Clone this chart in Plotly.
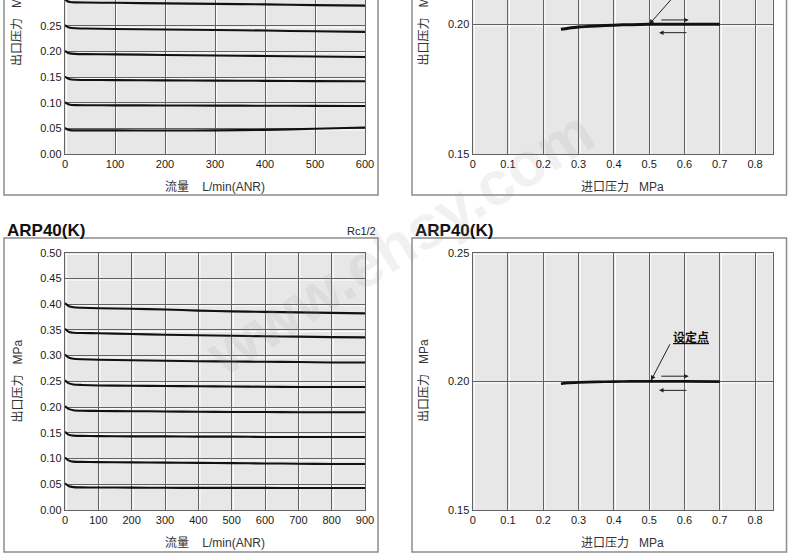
import plotly.graph_objects as go

W, H = 790, 556

# ---------------- data ----------------
# top-left panel (flow characteristics, 0-600 L/min)
flow_top = [0, 4, 10, 20, 40, 100, 200, 300, 400, 500, 600]
top_030 = [0.301, 0.298, 0.296, 0.2953, 0.295, 0.2945, 0.2935, 0.2925, 0.2915, 0.290, 0.289]
top_025 = [0.251, 0.248, 0.246, 0.245, 0.2445, 0.2435, 0.2425, 0.2415, 0.2405, 0.239, 0.238]
top_020 = [0.201, 0.198, 0.196, 0.195, 0.1945, 0.194, 0.193, 0.192, 0.191, 0.190, 0.189]
top_015 = [0.151, 0.148, 0.1455, 0.1447, 0.1443, 0.144, 0.1435, 0.143, 0.1425, 0.142, 0.1418]
top_010 = [0.101, 0.098, 0.096, 0.0953, 0.095, 0.0948, 0.0945, 0.0943, 0.094, 0.0938, 0.0935]
top_005 = [0.051, 0.048, 0.0465, 0.046, 0.046, 0.046, 0.0458, 0.046, 0.047, 0.0492, 0.0515]

# bottom-left panel ARP40(K) (flow characteristics, 0-900 L/min)
flow_k = [0, 5, 12, 25, 50, 100, 200, 300, 400, 500, 600, 700, 800, 900]
k_040 = [0.402, 0.399, 0.396, 0.394, 0.393, 0.392, 0.391, 0.3895, 0.3875, 0.386, 0.385, 0.384, 0.383, 0.382]
k_035 = [0.352, 0.349, 0.346, 0.3445, 0.344, 0.3435, 0.342, 0.3405, 0.3395, 0.3385, 0.3375, 0.337, 0.336, 0.3355]
k_030 = [0.302, 0.299, 0.296, 0.294, 0.293, 0.292, 0.291, 0.290, 0.289, 0.2885, 0.288, 0.2875, 0.2865, 0.2865]
k_025 = [0.252, 0.249, 0.246, 0.244, 0.243, 0.242, 0.2415, 0.241, 0.2405, 0.240, 0.2395, 0.239, 0.239, 0.239]
k_020 = [0.202, 0.199, 0.196, 0.194, 0.193, 0.1925, 0.192, 0.1915, 0.191, 0.1905, 0.1905, 0.190, 0.190, 0.190]
k_015 = [0.152, 0.149, 0.146, 0.1445, 0.144, 0.1435, 0.143, 0.143, 0.1425, 0.1425, 0.142, 0.142, 0.142, 0.142]
k_010 = [0.102, 0.099, 0.096, 0.094, 0.0935, 0.093, 0.0925, 0.092, 0.0915, 0.091, 0.0905, 0.090, 0.0895, 0.0895]
k_005 = [0.052, 0.049, 0.046, 0.0445, 0.044, 0.0438, 0.0435, 0.0432, 0.043, 0.043, 0.043, 0.0428, 0.0428, 0.0428]

# pressure characteristics (inlet vs outlet)
inlet = [0.25, 0.27, 0.30, 0.35, 0.40, 0.45, 0.50, 0.60, 0.70]
outlet_top = [0.1981, 0.1985, 0.1990, 0.1994, 0.1997, 0.1999, 0.2000, 0.2000, 0.2000]
outlet_k = [0.1991, 0.1994, 0.1996, 0.1998, 0.1999, 0.2000, 0.2000, 0.2000, 0.1999]
set_point = (0.50, 0.200)

flow_ticks_top = [0, 100, 200, 300, 400, 500, 600]
flow_ticks_k = [0, 100, 200, 300, 400, 500, 600, 700, 800, 900]
inlet_ticks = [0, 0.1, 0.2, 0.3, 0.4, 0.5, 0.6, 0.7, 0.8]
inlet_tick_text = ["0", "0.1", "0.2", "0.3", "0.4", "0.5", "0.6", "0.7", "0.8"]
flow_p_ticks_top = [0.00, 0.05, 0.10, 0.15, 0.20, 0.25, 0.30]
flow_p_ticks_k = [0.00, 0.05, 0.10, 0.15, 0.20, 0.25, 0.30, 0.35, 0.40, 0.45, 0.50]
out_p_ticks = [0.15, 0.20, 0.25]

title_k = "ARP40(K)"
port_k = "Rc1/2"
xlab_flow = "流量\u00a0\u00a0\u00a0\u00a0L/min(ANR)"
xlab_inlet = "进口压力\u00a0\u00a0\u00a0MPa"
ylab_out = "出口压力\u00a0\u00a0\u00a0MPa"
setpoint_label = "设定点"
watermark = "www.ehsy.com"

# ---------------- layout helpers ----------------
def px_x(p):
    return p / W

def px_y(p):
    return 1 - p / H

GRID = "#626262"
LAT = "Liberation Sans, Arial, Noto Sans CJK SC"

def axis_style(**kw):
    d = dict(showgrid=True, gridcolor=GRID, gridwidth=1.4, showline=True,
             linecolor=GRID, linewidth=1.4, mirror=True, ticks="",
             zeroline=False, automargin=False, fixedrange=True,
             tickfont=dict(family=LAT, size=11, color="#1a1a1a"))
    d.update(kw)
    return d

fig = go.Figure()

line_style = dict(color="#111", width=2.1, shape="spline", smoothing=0.6)

for s in [top_030, top_025, top_020, top_015, top_010, top_005]:
    fig.add_trace(go.Scatter(x=flow_top, y=s, mode="lines", line=line_style,
                             xaxis="x", yaxis="y", showlegend=False, hoverinfo="skip"))
fig.add_trace(go.Scatter(x=inlet, y=outlet_top, mode="lines",
                         line=dict(color="#111", width=3, shape="spline", smoothing=0.6),
                         xaxis="x2", yaxis="y2", showlegend=False, hoverinfo="skip"))
for s in [k_040, k_035, k_030, k_025, k_020, k_015, k_010, k_005]:
    fig.add_trace(go.Scatter(x=flow_k, y=s, mode="lines", line=line_style,
                             xaxis="x3", yaxis="y3", showlegend=False, hoverinfo="skip"))
fig.add_trace(go.Scatter(x=inlet, y=outlet_k, mode="lines",
                         line=dict(color="#111", width=2.6, shape="spline", smoothing=0.6),
                         xaxis="x4", yaxis="y4", showlegend=False, hoverinfo="skip"))

left_dom = [px_x(65), px_x(365)]
right_dom = [px_x(472.7), px_x(772.7)]
top_dom = [px_y(154), 1.0]
bot_dom = [px_y(510), px_y(252.7)]

fig.update_layout(
    width=W, height=H,
    margin=dict(l=0, r=0, t=0, b=0, autoexpand=False),
    paper_bgcolor="white", plot_bgcolor="#e7e7e7",
    template="none",
    xaxis=axis_style(domain=left_dom, range=[0, 600], tickvals=flow_ticks_top,
                     anchor="y", mirror=False),
    yaxis=axis_style(domain=top_dom, range=[0, 0.30], tickvals=flow_p_ticks_top,
                     tickformat=".2f", anchor="x"),
    xaxis2=axis_style(domain=right_dom, range=[0, 0.85], tickvals=inlet_ticks,
                      ticktext=inlet_tick_text, anchor="y2", mirror=False),
    yaxis2=axis_style(domain=top_dom, range=[0.15, 0.2094], tickvals=out_p_ticks,
                      tickformat=".2f", anchor="x2"),
    xaxis3=axis_style(domain=left_dom, range=[0, 900], tickvals=flow_ticks_k, anchor="y3"),
    yaxis3=axis_style(domain=bot_dom, range=[0, 0.50], tickvals=flow_p_ticks_k,
                      tickformat=".2f", anchor="x3"),
    xaxis4=axis_style(domain=right_dom, range=[0, 0.85], tickvals=inlet_ticks,
                      ticktext=inlet_tick_text, anchor="y4"),
    yaxis4=axis_style(domain=bot_dom, range=[0.15, 0.25], tickvals=out_p_ticks,
                      tickformat=".2f", anchor="x4"),
)

# white highlight next to each grid line (embossed look of the printed chart)
HL = "rgba(255,255,255,0.95)"
panels = [("x", "y", flow_ticks_top, flow_p_ticks_top[:-1]),
          ("x2", "y2", inlet_ticks, out_p_ticks[:2]),
          ("x3", "y3", flow_ticks_k[:-1], flow_p_ticks_k[1:]),
          ("x4", "y4", inlet_ticks, out_p_ticks[1:])]
for xr, yr, xt, yt in panels:
    for v in xt:
        fig.add_shape(type="line", xref=xr, xsizemode="pixel", xanchor=v, x0=1.6, x1=1.6,
                      yref=yr + " domain", y0=0, y1=1, line=dict(color=HL, width=1),
                      layer="below")
    for v in yt:
        fig.add_shape(type="line", yref=yr, ysizemode="pixel", yanchor=v, y0=-1.6, y1=-1.6,
                      xref=xr + " domain", x0=0, x1=1, line=dict(color=HL, width=1),
                      layer="below")

# panel frames
FRAME = "#8c8c8c"
for (x0, x1, y0, y1) in [(4, 378, -20, 195), (412, 786.5, -20, 195),
                         (4, 378, 238, 552), (412, 786.5, 238, 552)]:
    fig.add_shape(type="rect", xref="paper", yref="paper",
                  x0=px_x(x0), x1=px_x(x1), y0=px_y(y1), y1=px_y(y0),
                  line=dict(color=FRAME, width=1.5), fillcolor="rgba(0,0,0,0)",
                  layer="below")

ann = []
# titles
for xl in [5, 413]:
    ann.append(dict(text="<b>" + title_k + "</b>", x=px_x(xl), y=px_y(230), xref="paper", yref="paper",
                    xanchor="left", yanchor="middle", showarrow=False,
                    font=dict(family=LAT, size=17, color="#111")))
ann.append(dict(text=port_k, x=px_x(378), y=px_y(231), xref="paper", yref="paper",
                xanchor="right", yanchor="middle", showarrow=False,
                font=dict(family=LAT, size=11, color="#222")))

# x-axis titles
for xc, yc, t in [(215, 186.5, xlab_flow), (622.7, 186.5, xlab_inlet),
                  (215, 543, xlab_flow), (622.7, 543, xlab_inlet)]:
    ann.append(dict(text=t, x=px_x(xc), y=px_y(yc), xref="paper", yref="paper",
                    xanchor="center", yanchor="middle", showarrow=False,
                    font=dict(family=LAT, size=12, color="#333")))
# y-axis titles
for xc, yc in [(17.5, 24.5), (424, 24.5), (17.5, 381), (424, 381)]:
    ann.append(dict(text=ylab_out, x=px_x(xc), y=px_y(yc), xref="paper", yref="paper",
                    xanchor="center", yanchor="middle", showarrow=False, textangle=-90,
                    font=dict(family=LAT, size=12, color="#333")))

# set point markers (bottom-right)
ann.append(dict(text="", x=set_point[0] + 0.005, y=set_point[1] + 0.0003, xref="x4", yref="y4",
                ax=0.561, ay=0.2150, axref="x4", ayref="y4", showarrow=True,
                arrowhead=2, arrowsize=1.0, arrowwidth=1, arrowcolor="#222"))
ann.append(dict(text="<u><b>" + setpoint_label + "</b></u>", x=0.563, y=0.2174, xref="x4", yref="y4",
                xanchor="left", yanchor="middle", showarrow=False,
                font=dict(family="Noto Sans CJK SC", size=12, color="#111")))
ann.append(dict(text="", x=0.612, y=0.2020, xref="x4", yref="y4",
                ax=0.53, ay=0.2020, axref="x4", ayref="y4", showarrow=True,
                arrowhead=2, arrowsize=0.9, arrowwidth=1, arrowcolor="#222"))
ann.append(dict(text="", x=0.528, y=0.1965, xref="x4", yref="y4",
                ax=0.61, ay=0.1965, axref="x4", ayref="y4", showarrow=True,
                arrowhead=2, arrowsize=0.9, arrowwidth=1, arrowcolor="#222"))
# set point markers (top-right)
ann.append(dict(text="", x=set_point[0], y=set_point[1], xref="x2", yref="y2",
                ax=0.585, ay=0.2131, axref="x2", ayref="y2", showarrow=True,
                arrowhead=2, arrowsize=1.0, arrowwidth=1, arrowcolor="#222"))
ann.append(dict(text="", x=0.612, y=0.2017, xref="x2", yref="y2",
                ax=0.53, ay=0.2017, axref="x2", ayref="y2", showarrow=True,
                arrowhead=2, arrowsize=0.9, arrowwidth=1, arrowcolor="#222"))
ann.append(dict(text="", x=0.528, y=0.1968, xref="x2", yref="y2",
                ax=0.61, ay=0.1968, axref="x2", ayref="y2", showarrow=True,
                arrowhead=2, arrowsize=0.9, arrowwidth=1, arrowcolor="#222"))

# faint watermark
ann.append(dict(text="<b>" + watermark + "</b>", x=px_x(400), y=px_y(243), xref="paper", yref="paper",
                showarrow=False, textangle=-32, xanchor="center", yanchor="middle",
                font=dict(family=LAT, size=62, color="rgba(150,150,150,0.13)")))

fig.update_layout(annotations=ann)

fig.write_html("out.html", config={"displayModeBar": False},
               post_script="document.body.style.margin='0';document.body.style.overflow='hidden';")
